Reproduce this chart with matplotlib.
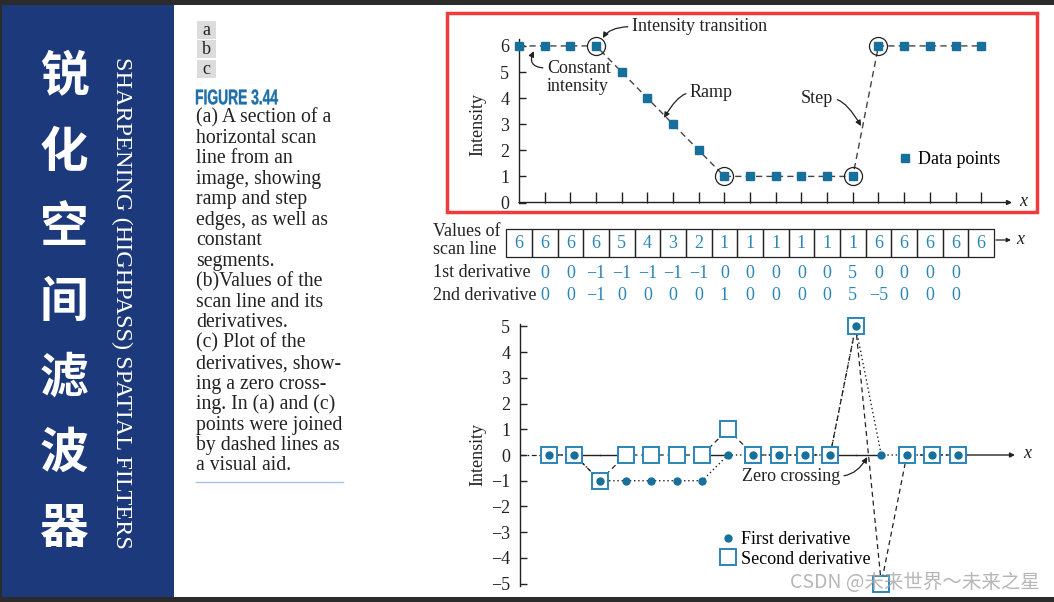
import matplotlib
matplotlib.use("Agg")
import matplotlib.pyplot as plt
import numpy as np
from matplotlib.font_manager import FontProperties
from matplotlib.lines import Line2D
from matplotlib.patches import PathPatch, Rectangle
from matplotlib.textpath import TextPath
from matplotlib.transforms import Affine2D

# ---------------------------------------------------------
# Data
# ---------------------------------------------------------
scan_x = np.arange(19)
scan_values = [6, 6, 6, 6, 5, 4, 3, 2, 1, 1, 1, 1, 1, 1, 6, 6, 6, 6, 6]
transition_idx = [3, 8, 13, 14]

deriv_x = np.arange(1, 18)
first_deriv = [0, 0, -1, -1, -1, -1, -1, 0, 0, 0, 0, 0, 5, 0, 0, 0, 0]
second_deriv = [0, 0, -1, 0, 0, 0, 0, 1, 0, 0, 0, 0, 5, -5, 0, 0, 0]

title_cn = "锐化空间滤波器"
title_en = "SHARPENING (HIGHPASS) SPATIAL FILTERS"
caption_lines = [
    "(a) A section of a",
    "horizontal scan",
    "line from an",
    "image, showing",
    "ramp and step",
    "edges, as well as",
    "constant",
    "segments.",
    "(b)Values of the",
    "scan line and its",
    "derivatives.",
    "(c) Plot of the",
    "derivatives, show-",
    "ing a zero cross-",
    "ing. In (a) and (c)",
    "points were joined",
    "by dashed lines as",
    "a visual aid.",
]

# ---------------------------------------------------------
# Styles
# ---------------------------------------------------------
W, H = 1054, 602
SERIF = ["Liberation Serif", "DejaVu Serif"]
CJK = ["Noto Sans CJK SC", "DejaVu Sans"]
INK = "#222222"
BLUE = "#17709b"
VAL_BLUE = "#2a86b5"
PANEL = "#1c3a7b"
DARK = "#2b2b2b"

plt.rcParams["font.family"] = SERIF
plt.rcParams["axes.unicode_minus"] = True


def fx(px):
    return px / W


def fy(py):
    return 1 - py / H


def rect(l, t, r, b):
    return [l / W, 1 - b / H, (r - l) / W, (b - t) / H]


fig = plt.figure(figsize=(W / 100, H / 100), dpi=100)
fig.patch.set_facecolor("white")


def squeezed_text(s, left, mid, width, height, prop, color):
    # text drawn as a path so that it can be narrowed to fit a box
    tp = TextPath((0, 0), s, size=100, prop=prop)
    ext = tp.get_extents()
    tr = (Affine2D()
          .translate(-ext.x0, -ext.y0 - ext.height / 2)
          .scale(width / ext.width, height / ext.height)
          .translate(left, H - mid)
          + Affine2D().scale(1 / W, 1 / H) + fig.transFigure)
    fig.add_artist(PathPatch(tp, transform=tr, color=color, lw=0.3))


# frame bands and blue side panel
fig.add_artist(Rectangle((0, fy(5)), 1, 5 / H, transform=fig.transFigure,
                         color=DARK, lw=0))
fig.add_artist(Rectangle((0, 0), 1, 5 / H, transform=fig.transFigure,
                         color=DARK, lw=0))
fig.add_artist(Rectangle((0, 0), 2 / W, 1, transform=fig.transFigure,
                         color=DARK, lw=0))
fig.add_artist(Rectangle((fx(2), fy(597)), 172 / W, 592 / H,
                         transform=fig.transFigure, color=PANEL, lw=0))

for i, ch in enumerate(title_cn):
    fig.text(fx(64), fy(77 + i * 75.3), ch, family=CJK, fontsize=35,
             fontweight="bold", color="white", ha="center", va="center")

fig.text(fx(122), fy(303), title_en, family=SERIF, fontsize=17.5,
         color="white", rotation=270, ha="center", va="center")

# a / b / c boxes
for i, lab in enumerate(["a", "b", "c"]):
    top = 21 + i * 19.3
    fig.add_artist(Rectangle((fx(197), fy(top + 18)), 19 / W, 18 / H,
                             transform=fig.transFigure, color="#dcdcdc", lw=0))
    fig.text(fx(206.5), fy(top + 9.5), lab, fontsize=13, color=INK,
             ha="center", va="center")

squeezed_text("FIGURE 3.44", 196, 97, 82, 15,
              FontProperties(family="Liberation Sans", weight="bold"),
              "#1f70a8")

for i, line in enumerate(caption_lines):
    fig.text(fx(196), fy(118 + i * 20.47), line, fontsize=14.2, color=INK,
             ha="left", va="center")

fig.add_artist(Line2D([fx(196), fx(343)], [fy(482), fy(482)],
                      transform=fig.transFigure, color="#a9c0e2", lw=1))

# ---------------------------------------------------------
# (a) scan line plot
# ---------------------------------------------------------
ax_a = fig.add_axes(rect(519, 39.4, 1012, 202.5))
ax_a.set_xlim(0, 19.2)
ax_a.set_ylim(0, 6.25)
for s in ["top", "right", "bottom"]:
    ax_a.spines[s].set_visible(False)
ax_a.spines["left"].set_color(INK)
ax_a.spines["left"].set_linewidth(1)
ax_a.annotate("", xy=(1, 0), xytext=(0, 0), xycoords="axes fraction",
              arrowprops=dict(arrowstyle="-|>", color=INK, lw=1,
                              mutation_scale=7, shrinkA=0, shrinkB=0))
ax_a.set_xticks(scan_x[1:])
ax_a.set_xticklabels([])
ax_a.set_yticks(range(7))
ax_a.tick_params(axis="x", direction="in", length=8, width=1, color=INK)
ax_a.tick_params(axis="y", direction="in", length=5, width=1, color=INK,
                 labelsize=13, labelcolor=INK, pad=7)
ax_a.patch.set_alpha(0)

ax_a.plot(scan_x, scan_values, ls=(0, (4.5, 3)), color="#444444", lw=1,
          clip_on=False, zorder=2)
ax_a.plot(scan_x, scan_values, ls="none", marker="s", ms=5.5, color=BLUE,
          clip_on=False, zorder=3)
ax_a.plot(scan_x[transition_idx], np.array(scan_values)[transition_idx],
          ls="none", marker="o", ms=13, mfc="none", mec=INK, mew=0.9,
          clip_on=False, zorder=4)

arrow_kw = dict(arrowstyle="-|>", color=INK, lw=0.9, mutation_scale=8,
                shrinkA=1, shrinkB=0)
ax_a.annotate("Intensity transition", xy=(3.27, 6.30), xytext=(4.40, 6.74),
              fontsize=13, color=INK, ha="left", va="center",
              annotation_clip=False,
              arrowprops=dict(arrow_kw, relpos=(0, 0.5),
                              connectionstyle="angle3,angleA=0,angleB=60"))
ax_a.annotate("Constant\nintensity", xy=(0.58, 5.80), xytext=(1.09, 4.78),
              fontsize=13, color=INK, ha="left", va="center",
              linespacing=1.05,
              arrowprops=dict(arrow_kw, relpos=(0, 0.78),
                              connectionstyle="angle3,angleA=0,angleB=65"))
ax_a.annotate("Ramp", xy=(5.65, 3.24), xytext=(6.66, 4.20),
              fontsize=13, color=INK, ha="left", va="center",
              arrowprops=dict(arrow_kw, relpos=(0, 0.5),
                              connectionstyle="angle3,angleA=0,angleB=60"))
ax_a.annotate("Step", xy=(13.32, 2.93), xytext=(10.98, 3.97),
              fontsize=13, color=INK, ha="left", va="center",
              arrowprops=dict(arrow_kw, relpos=(1, 0.5),
                              connectionstyle="angle3,angleA=0,angleB=-60"))

ax_a.legend(handles=[Line2D([], [], ls="none", marker="s", ms=5.5,
                            color=BLUE, label="Data points")],
            loc="center left", bbox_to_anchor=(fx(898), fy(160)),
            bbox_transform=fig.transFigure, frameon=False, fontsize=13,
            handlelength=0.8, handletextpad=0.3, borderpad=0,
            borderaxespad=0)

fig.text(fx(1023), fy(202), "x", style="italic", fontsize=13, color=INK,
         ha="center", va="center")
fig.text(fx(478), fy(125), "Intensity", fontsize=13, color=INK,
         rotation=90, ha="center", va="center")

# red highlight box
fig.add_artist(Rectangle((fx(447), fy(212)), 590 / W, 199 / H,
                         transform=fig.transFigure, fill=False,
                         ec="#ee3b3b", lw=2.5))

# ---------------------------------------------------------
# (b) table of values
# ---------------------------------------------------------
ax_b = fig.add_axes(rect(519, 215, 1012, 305))
ax_b.set_xlim(0, 19.2)
ax_b.set_ylim(305, 215)
ax_b.axis("off")

for xi, v in zip(scan_x, scan_values):
    ax_b.add_patch(Rectangle((xi - 0.5, 229), 1, 28, fill=False, ec=INK,
                             lw=0.9, clip_on=False))
    ax_b.text(xi, 243.5, str(v), fontsize=13, color=VAL_BLUE,
              ha="center", va="center")
for xi, v in zip(deriv_x, first_deriv):
    ax_b.text(xi, 273, f"{v}".replace("-", "\u2212"), fontsize=13,
              color=VAL_BLUE, ha="center", va="center")
for xi, v in zip(deriv_x, second_deriv):
    ax_b.text(xi, 295, f"{v}".replace("-", "\u2212"), fontsize=13,
              color=VAL_BLUE, ha="center", va="center")

fig.text(fx(433), fy(231), "Values of", fontsize=13, color=INK,
         ha="left", va="center")
fig.text(fx(433), fy(249), "scan line", fontsize=13, color=INK,
         ha="left", va="center")
fig.text(fx(433), fy(273), "1st derivative", fontsize=13, color=INK,
         ha="left", va="center")
fig.text(fx(433), fy(295), "2nd derivative", fontsize=13, color=INK,
         ha="left", va="center")
ax_b.annotate("", xy=(fx(1011), fy(240)), xytext=(fx(996), fy(240)),
              xycoords="figure fraction",
              arrowprops=dict(arrowstyle="-|>", color=INK, lw=0.9,
                              mutation_scale=6, shrinkA=0, shrinkB=0))
fig.text(fx(1020), fy(239), "x", style="italic", fontsize=13, color=INK,
         ha="center", va="center")

# ---------------------------------------------------------
# (c) derivatives plot
# ---------------------------------------------------------
ax_c = fig.add_axes(rect(520, 323.9, 1015, 586.1))
ax_c.set_xlim(-0.13, 19.23)
ax_c.set_ylim(-5.1, 5.1)
for s in ["top", "right", "bottom"]:
    ax_c.spines[s].set_visible(False)
ax_c.spines["left"].set_color(INK)
ax_c.spines["left"].set_linewidth(1)
ax_c.set_xticks([])
ax_c.set_yticks(range(-5, 6))
ax_c.tick_params(axis="y", direction="in", length=5, width=1, color=INK,
                 labelsize=13, labelcolor=INK, pad=7)
ax_c.patch.set_alpha(0)

# zero axis: solid only where neither curve runs along zero
for i in range(len(deriv_x) - 1):
    on1 = first_deriv[i] == 0 and first_deriv[i + 1] == 0
    on2 = second_deriv[i] == 0 and second_deriv[i + 1] == 0
    if not (on1 or on2):
        ax_c.plot(deriv_x[i:i + 2], [0, 0], color=INK, lw=1, zorder=1)
ax_c.plot([ax_c.get_xlim()[0], deriv_x[0]], [0, 0], color=INK, lw=0.9,
          ls=(0, (4, 2, 1, 2)), zorder=1)
ax_c.annotate("", xy=(1, 0), xytext=(deriv_x[-1], 0),
              xycoords=("axes fraction", "data"), textcoords="data",
              arrowprops=dict(arrowstyle="-|>", color=INK, lw=1,
                              mutation_scale=7, shrinkA=0, shrinkB=0))

ax_c.plot(deriv_x, second_deriv, ls=(0, (4, 3)), color=INK, lw=0.9,
          zorder=2, clip_on=False)
ax_c.plot(deriv_x, first_deriv, ls=(0, (1, 2)), color=INK, lw=1,
          zorder=2, clip_on=False)
ax_c.plot(deriv_x, second_deriv, ls="none", marker="s", ms=11, mfc="white",
          mec=VAL_BLUE, mew=1.4, zorder=3, clip_on=False)
ax_c.plot(deriv_x, first_deriv, ls="none", marker="o", ms=5, color=BLUE,
          zorder=4, clip_on=False)

ax_c.annotate("Zero crossing", xy=(13.45, -0.08), xytext=(12.38, -0.82),
              fontsize=13, color=INK, ha="right", va="center",
              arrowprops=dict(arrow_kw, relpos=(1, 0.5),
                              connectionstyle="angle3,angleA=0,angleB=60"))

ax_c.legend(handles=[
    Line2D([], [], ls="none", marker="o", ms=5, color=BLUE,
           label="First derivative"),
    Line2D([], [], ls="none", marker="s", ms=11, mfc="white",
           mec=VAL_BLUE, mew=1.4, label="Second derivative"),
], loc="upper left", bbox_to_anchor=(fx(721), fy(531)),
    bbox_transform=fig.transFigure, frameon=False, fontsize=13,
    handlelength=0.8, handletextpad=0.3, labelspacing=0.15, borderpad=0,
    borderaxespad=0)

fig.text(fx(1027), fy(454), "x", style="italic", fontsize=13, color=INK,
         ha="center", va="center")
fig.text(fx(478), fy(455), "Intensity", fontsize=13, color=INK,
         rotation=90, ha="center", va="center")

# watermark
fig.text(fx(1040), fy(582), "CSDN @未来世界～未来之星", family=CJK,
         fontsize=14, color="#a5a5a5", alpha=0.8, ha="right", va="center",
         zorder=10)

fig.savefig("out.png", dpi=100)
